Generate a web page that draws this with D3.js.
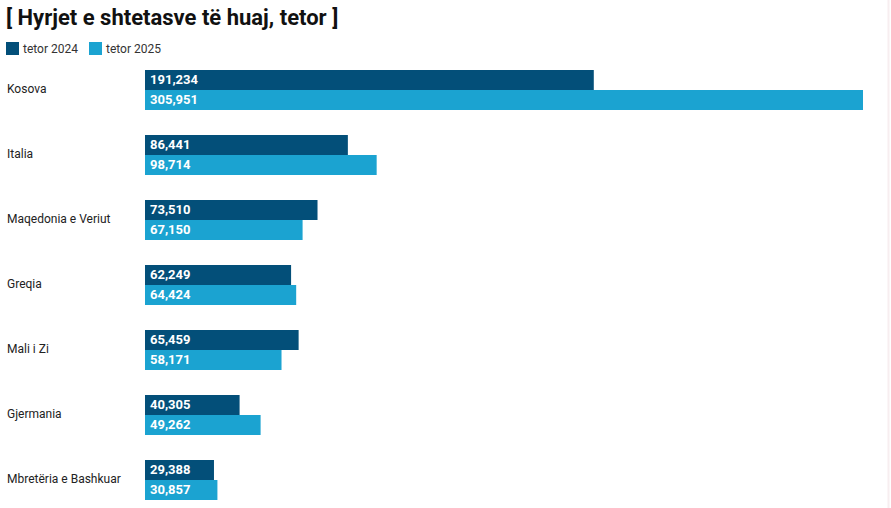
<!DOCTYPE html>
<html><head><meta charset="utf-8">
<script src="https://cdn.jsdelivr.net/npm/d3@7"></script>
<style>body{margin:0;background:#fff;}svg{display:block;font-family:Roboto,sans-serif;}</style>
</head><body>
<svg id="chart" width="891" height="508"></svg>
<script>
const title = "[ Hyrjet e shtetasve të huaj, tetor ]";
const categories = ["Kosova","Italia","Maqedonia e Veriut","Greqia","Mali i Zi","Gjermania","Mbretëria e Bashkuar"];
const seriesNames = ["tetor 2024","tetor 2025"];
const values2024 = [191234,86441,73510,62249,65459,40305,29388];
const values2025 = [305951,98714,67150,64424,58171,49262,30857];
const colors = ["#034f79","#1ba3d1"];

const svg = d3.select("#chart");
svg.append("rect").attr("x",0).attr("y",0).attr("width",891).attr("height",508).attr("fill","#fff");
svg.append("line").attr("x1",888.5).attr("x2",888.5).attr("y1",0).attr("y2",508).attr("stroke","#f7eef0").attr("stroke-width",2);

svg.append("text").attr("x",6).attr("y",25).attr("font-size",22).attr("font-weight",700).attr("fill","#111").text(title);

const legX = [6,89];
seriesNames.forEach((s,i)=>{
  svg.append("rect").attr("x",legX[i]).attr("y",42).attr("width",13).attr("height",13).attr("fill",colors[i]);
  svg.append("text").attr("x",legX[i]+17).attr("y",53).attr("font-size",12).attr("fill","#333").text(s);
});

const x = d3.scaleLinear().domain([0, d3.max(values2025)]).range([145, 863]);
const y = d3.scaleBand().domain(categories).range([70, 525]).paddingInner(0);
const bh = 20;

const g = svg.append("g");
categories.forEach((c,i)=>{
  const y0 = y(c);
  g.append("text").attr("x",7).attr("y",y0+bh-1).attr("dy","0.35em").attr("font-size",12).attr("fill","#222").text(c);
  [values2024[i], values2025[i]].forEach((v,j)=>{
    g.append("rect").attr("x",x(0)).attr("y",y0+j*bh).attr("width",x(v)-x(0)).attr("height",bh).attr("fill",colors[j]);
    g.append("text").attr("x",x(0)+5).attr("y",y0+j*bh+bh/2-0.5).attr("dy","0.36em")
      .attr("font-size",13).attr("font-weight",700).attr("fill","#fff").text(d3.format(",")(v));
  });
});
</script>
</body></html>
